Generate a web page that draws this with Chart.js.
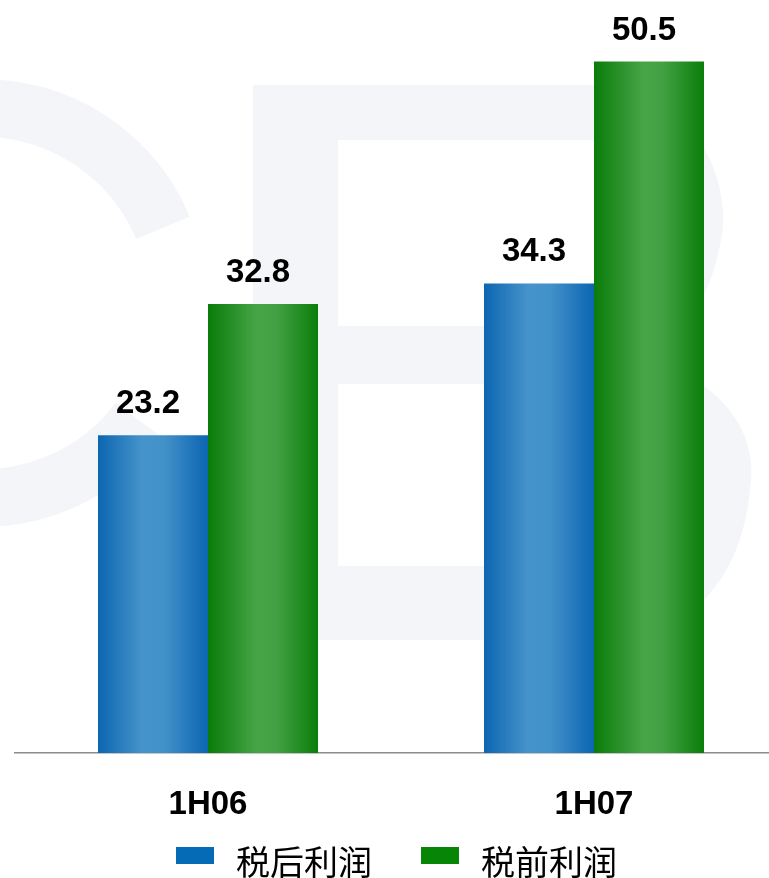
<!DOCTYPE html>
<html>
<head>
<meta charset="utf-8">
<script src="https://cdn.jsdelivr.net/npm/chart.js@4"></script>
<style>
  html, body { margin: 0; padding: 0; background: #fff; overflow: hidden; }
  #wrap { width: 769px; height: 878px; overflow: hidden; position: relative; }
  #wrap canvas { position: absolute; left: 0; top: 0; }
</style>
</head>
<body>
<div id="wrap"><canvas id="js--chart" width="787" height="878" style="width:787px;height:878px"></canvas></div>
<script>
// data
const periods = ['1H06', '1H07'];
const seriesNames = ['税后利润', '税前利润'];
const afterTax = [23.2, 34.3];
const beforeTax = [32.8, 50.5];

const legendColors = ['#066bb6', '#078507'];
const blueStops = [[0, '#0d66b1'], [0.4, '#4593ca'], [0.6, '#4391c9'], [1, '#0c66b2']];
const greenStops = [[0, '#0a7c0a'], [0.45, '#47a547'], [0.62, '#43a143'], [1, '#0a7e0a']];
const catPct = 0.57;

// horizontal shading per bar, worked out from the x scale
function barGradient(stops, solid){
  return function(ctx){
    const chart = ctx.chart;
    const x = chart.scales.x;
    if(!chart.chartArea || !x || ctx.type !== 'data') return solid;
    const n = chart.data.datasets.length;
    const catW = x.width / chart.data.labels.length;
    const barW = catW * catPct / n;
    const left = x.getPixelForValue(ctx.dataIndex) - catW * catPct / 2 + ctx.datasetIndex * barW;
    const g = chart.ctx.createLinearGradient(left, 0, left + barW, 0);
    stops.forEach(function(s){ g.addColorStop(s[0], s[1]); });
    return g;
  };
}

// faint logo in the background
const watermark = {
  id: 'watermark',
  beforeDraw(chart){
    const c = chart.ctx;
    c.save();
    c.fillStyle = '#f4f5f9';
    // C
    c.beginPath();
    c.arc(-17, 303, 224, Math.PI * 0.205, Math.PI * 1.874);
    c.arc(-17, 303, 166, Math.PI * 1.874, Math.PI * 0.205, true);
    c.closePath();
    c.fill();
    // B
    c.beginPath();
    c.moveTo(253, 85);
    c.lineTo(590, 85);
    c.bezierCurveTo(700, 85, 735, 190, 720, 245);
    c.bezierCurveTo(710, 300, 680, 340, 640, 355);
    c.bezierCurveTo(720, 380, 760, 430, 750, 490);
    c.bezierCurveTo(740, 590, 680, 640, 600, 640);
    c.lineTo(253, 640);
    c.closePath();
    c.moveTo(338, 140);
    c.lineTo(338, 326);
    c.lineTo(590, 326);
    c.bezierCurveTo(640, 320, 650, 148, 590, 140);
    c.closePath();
    c.moveTo(338, 384);
    c.lineTo(338, 566);
    c.lineTo(600, 566);
    c.bezierCurveTo(660, 560, 670, 390, 600, 384);
    c.closePath();
    c.fill('evenodd');
    c.restore();
  }
};

const valueLabels = {
  id: 'valueLabels',
  afterDatasetsDraw(chart){
    const c = chart.ctx;
    c.save();
    c.font = 'bold 33px "Liberation Sans", Arial, sans-serif';
    c.fillStyle = '#000';
    c.textAlign = 'center';
    c.textBaseline = 'alphabetic';
    chart.data.datasets.forEach(function(ds, i){
      chart.getDatasetMeta(i).data.forEach(function(bar, j){
        c.fillText(ds.data[j].toFixed(1), bar.x - 5, bar.y - 22);
      });
    });
    c.restore();
  }
};

// legend under the axis, wide spacing like the original
const bottomLegend = {
  id: 'bottomLegend',
  afterDraw(chart){
    const c = chart.ctx;
    const boxW = 38, boxH = 17, gap = 22, spacing = 49;
    c.save();
    c.font = '34px "Noto Sans CJK SC", sans-serif';
    const widths = seriesNames.map(function(t){ return c.measureText(t).width; });
    let total = 0;
    widths.forEach(function(w, i){ total += boxW + gap + w + (i > 0 ? spacing : 0); });
    let x = chart.width / 2 + 3 - total / 2;
    const top = chart.chartArea.bottom + 94;
    c.textBaseline = 'middle';
    c.textAlign = 'left';
    seriesNames.forEach(function(t, i){
      c.fillStyle = legendColors[i];
      c.fillRect(x, top, boxW, boxH);
      x += boxW + gap;
      c.fillStyle = '#000';
      c.fillText(t, x, top + 15);
      x += widths[i] + spacing;
    });
    c.restore();
  }
};

const data = {
  labels: periods,
  datasets: [
    {
      label: seriesNames[0],
      data: afterTax,
      backgroundColor: barGradient(blueStops, legendColors[0]),
      borderWidth: 0,
      categoryPercentage: catPct,
      barPercentage: 1
    },
    {
      label: seriesNames[1],
      data: beforeTax,
      backgroundColor: barGradient(greenStops, legendColors[1]),
      borderWidth: 0,
      categoryPercentage: catPct,
      barPercentage: 1
    }
  ]
};

const config = {
  type: 'bar',
  data: data,
  options: {
    responsive: false,
    animation: false,
    layout: { padding: { left: 15, right: 0, top: 0, bottom: 45 } },
    plugins: {
      tooltip: { enabled: false },
      legend: { display: false }
    },
    scales: {
      x: {
        grid: { display: false, drawTicks: false },
        border: { display: true, color: '#8c8c8c', width: 1.5 },
        ticks: {
          color: '#000',
          padding: 32,
          font: { family: '"Liberation Sans", Arial, sans-serif', size: 33, weight: 'bold' }
        },
        afterFit: function(scale){ scale.height = 80; }
      },
      y: { display: false, min: 0, max: 55 }
    }
  },
  plugins: [watermark, valueLabels, bottomLegend]
};

const chart = new Chart(document.getElementById('js--chart'), config);
</script>
</body>
</html>
